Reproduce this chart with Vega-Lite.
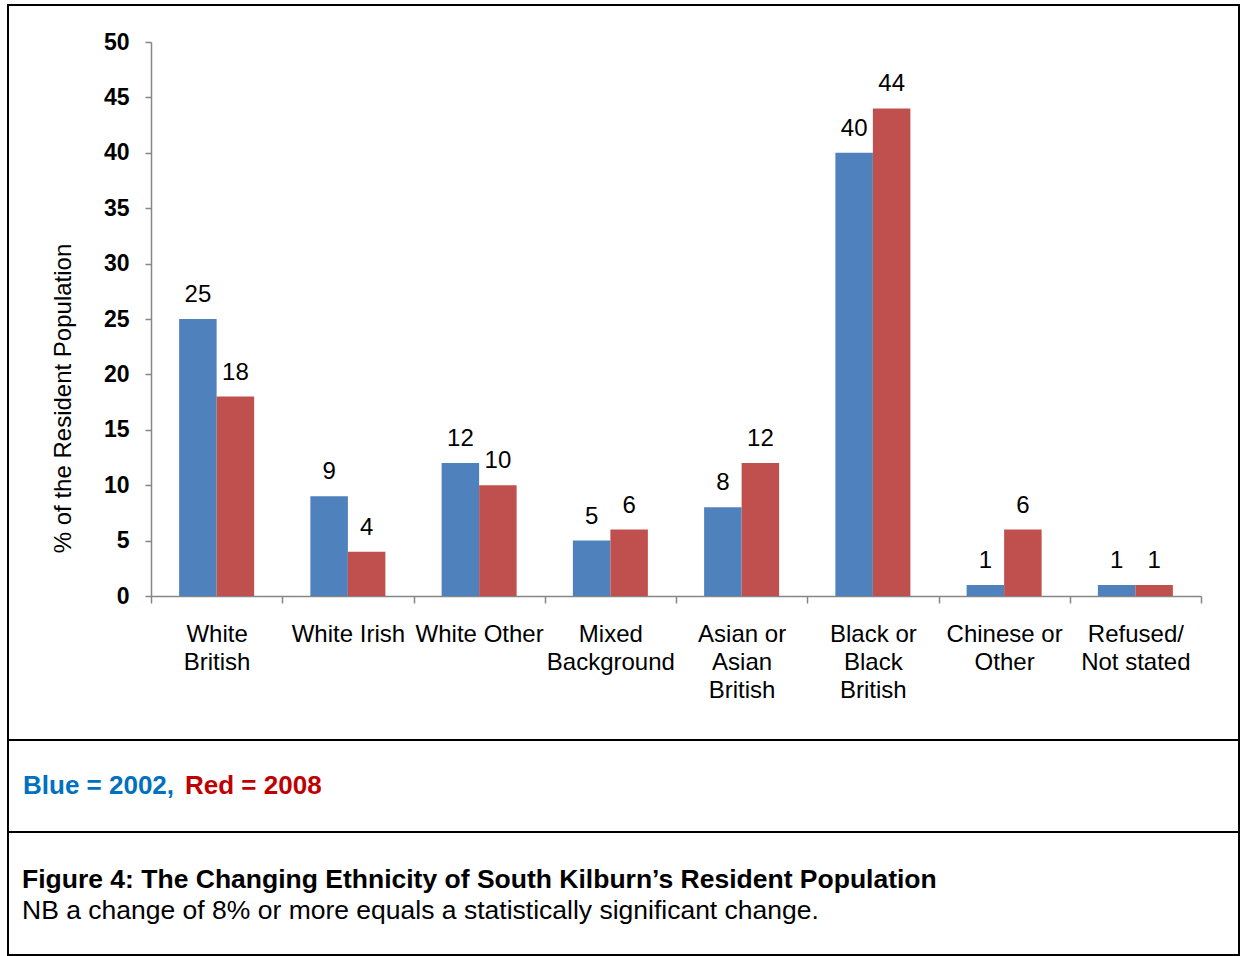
{
  "$schema": "https://vega.github.io/schema/vega-lite/v6.json",
  "padding": {"left": 7, "top": 4, "right": 0, "bottom": 0},
  "background": "white",
  "config": {
    "font": "Liberation Sans",
    "view": {"stroke": "black", "strokeWidth": 2}
  },
  "datasets": {
    "eth": [
      {"group": "White British", "year": "2002", "pct": 25},
      {"group": "White British", "year": "2008", "pct": 18},
      {"group": "White Irish", "year": "2002", "pct": 9},
      {"group": "White Irish", "year": "2008", "pct": 4},
      {"group": "White Other", "year": "2002", "pct": 12},
      {"group": "White Other", "year": "2008", "pct": 10},
      {"group": "Mixed Background", "year": "2002", "pct": 5},
      {"group": "Mixed Background", "year": "2008", "pct": 6},
      {"group": "Asian or Asian British", "year": "2002", "pct": 8},
      {"group": "Asian or Asian British", "year": "2008", "pct": 12},
      {"group": "Black or Black British", "year": "2002", "pct": 40},
      {"group": "Black or Black British", "year": "2008", "pct": 44},
      {"group": "Chinese or Other", "year": "2002", "pct": 1},
      {"group": "Chinese or Other", "year": "2008", "pct": 6},
      {"group": "Refused/ Not stated", "year": "2002", "pct": 1},
      {"group": "Refused/ Not stated", "year": "2008", "pct": 1}
    ]
  },
  "spacing": 0,
  "bounds": "flush",
  "resolve": {"scale": {"color": "independent"}, "legend": {"color": "independent"}},
  "vconcat": [
    {
      "width": 1231,
      "height": 735,
      "data": {"name": "eth"},
      "encoding": {
        "x": {
          "field": "group",
          "type": "nominal",
          "sort": null,
          "scale": {"range": [143, 1193], "paddingInner": 0, "paddingOuter": 0},
          "axis": {
            "orient": "bottom",
            "offset": -144,
            "title": null,
            "domainColor": "#868686",
            "domainWidth": 1.5,
            "tickColor": "#868686",
            "tickWidth": 1.5,
            "tickSize": 7,
            "tickBand": "extent",
            "labelAngle": 0,
            "labelFontSize": 24,
            "labelColor": "black",
            "labelPadding": 19,
            "labelBaseline": "top",
            "labelLineHeight": 28,
            "labelLimit": 400,
            "labelOverlap": false,
            "labelExpr": "datum.value == 'White British' ? ['White', 'British'] : datum.value == 'Mixed Background' ? ['Mixed', 'Background'] : datum.value == 'Asian or Asian British' ? ['Asian or', 'Asian', 'British'] : datum.value == 'Black or Black British' ? ['Black or', 'Black', 'British'] : datum.value == 'Chinese or Other' ? ['Chinese or', 'Other'] : datum.value == 'Refused/ Not stated' ? ['Refused/', 'Not stated'] : datum.label"
          }
        },
        "xOffset": {"field": "year", "type": "nominal", "scale": {"paddingInner": 0, "paddingOuter": 0.75}},
        "y": {
          "field": "pct",
          "type": "quantitative",
          "scale": {"domain": [0, 50], "range": [591, 37], "nice": false},
          "axis": {
            "values": [0, 5, 10, 15, 20, 25, 30, 35, 40, 45, 50],
            "offset": -143,
            "grid": false,
            "domainColor": "#868686",
            "domainWidth": 1.5,
            "tickColor": "#868686",
            "tickWidth": 1.5,
            "tickSize": 6,
            "labelFontSize": 23,
            "labelFontWeight": "bold",
            "labelColor": "black",
            "labelPadding": 16,
            "title": "% of the Resident Population",
            "titleFontSize": 24,
            "titleFontWeight": "normal",
            "titleColor": "black",
            "titleX": -88,
            "titleY": 393,
            "titleAngle": 270,
            "titleAlign": "center",
            "titleBaseline": "middle"
          }
        }
      },
      "layer": [
        {
          "mark": {"type": "bar"},
          "encoding": {
            "color": {
              "field": "year",
              "type": "nominal",
              "scale": {"domain": ["2002", "2008"], "range": ["#4F81BD", "#C0504D"]},
              "legend": null
            }
          }
        },
        {
          "mark": {"type": "text", "baseline": "alphabetic", "dy": -17, "fontSize": 24, "color": "black"},
          "encoding": {"text": {"field": "pct", "type": "quantitative"}}
        }
      ]
    },
    {
      "width": 1231,
      "height": 92,
      "view": {"stroke": "black", "strokeWidth": 2},
      "data": {"name": "eth"},
      "layer": [
        {
          "mark": {"type": "point", "opacity": 0},
          "encoding": {
            "color": {
              "field": "year",
              "type": "nominal",
              "scale": {"domain": ["2002", "2008"], "range": ["#0070C0", "#C00000"]},
              "legend": {
                "orient": "none",
                "legendX": 14,
                "legendY": 33,
                "direction": "horizontal",
                "title": null,
                "padding": 0,
                "symbolSize": 0,
                "symbolOpacity": 0,
                "symbolStrokeWidth": 0,
                "labelOffset": -25,
                "columnPadding": 9,
                "labelFontSize": 26,
                "labelFontWeight": "bold",
                "labelLimit": 400,
                "labelExpr": "datum.value == '2002' ? 'Blue = 2002,' : 'Red = 2008'",
                "labelColor": {"expr": "datum.value == '2002' ? '#0070C0' : '#C00000'"}
              }
            }
          }
        }
      ]
    },
    {
      "width": 1231,
      "height": 123,
      "view": {"stroke": "black", "strokeWidth": 2},
      "data": {"name": "eth"},
      "title": {
        "text": "Figure 4: The Changing Ethnicity of South Kilburn’s Resident Population",
        "subtitle": "NB a change of 8% or more equals a statistically significant change.",
        "anchor": "start",
        "frame": "group",
        "orient": "top",
        "offset": -92,
        "dx": 14,
        "font": "Liberation Sans",
        "fontSize": 26.5,
        "fontWeight": "bold",
        "color": "black",
        "subtitleFont": "Liberation Sans",
        "subtitleFontSize": 26.5,
        "subtitleColor": "black",
        "subtitlePadding": 4.5
      },
      "layer": [
        {"mark": {"type": "point", "opacity": 0}, "encoding": {}}
      ]
    }
  ]
}
